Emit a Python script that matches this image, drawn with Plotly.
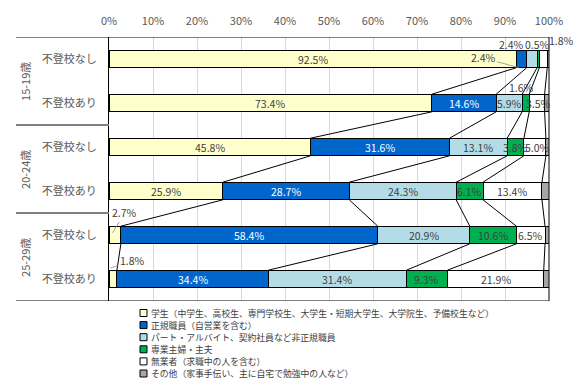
import plotly.graph_objects as go

# ---------------- data ----------------
groups = ["15-19歳", "20-24歳", "25-29歳"]
subgroups = ["不登校なし", "不登校あり"]
row_labels = [s for g in groups for s in subgroups]

series_names = [
    "学生（中学生、高校生、専門学校生、大学生・短期大学生、大学院生、予備校生など）",
    "正規職員（自営業を含む）",
    "パート・アルバイト、契約社員など非正規職員",
    "専業主婦・主夫",
    "無業者（求職中の人を含む）",
    "その他（家事手伝い、主に自宅で勉強中の人など）",
]
student = [92.5, 73.4, 45.8, 25.9, 2.7, 1.8]
regular = [2.4, 14.6, 31.6, 28.7, 58.4, 34.4]
nonregular = [2.4, 5.9, 13.1, 24.3, 20.9, 31.4]
homemaker = [0.5, 1.6, 3.8, 6.1, 10.6, 9.3]
unemployed = [1.8, 3.5, 5.0, 13.4, 6.5, 21.9]
other = [0.4, 1.0, 0.7, 1.6, 0.9, 1.2]
x_ticks = list(range(0, 101, 10))

# ---------------- styles ----------------
series_values = [student, regular, nonregular, homemaker, unemployed, other]
colors = ["#FFFFCC", "#0066CC", "#B4DCE6", "#00B050", "#FFFFFF", "#A6A6A6"]
label_colors = ["#404040", "#FFFFFF", "#404040", "#404040", "#404040", None]
FONT = "Noto Sans CJK JP"
BAR_W = 0.4
n_rows = len(row_labels)
ypos = list(range(n_rows))

fig = go.Figure()
for name, vals, col in zip(series_names, series_values, colors):
    fig.add_trace(go.Bar(
        y=ypos, x=vals, name=name, orientation="h", width=BAR_W,
        marker=dict(color=col, line=dict(color="#000000", width=1)),
        showlegend=False, hoverinfo="x+name",
    ))

# cumulative boundaries
cum = []
for i in range(n_rows):
    c, row = 0.0, []
    for vals in series_values:
        c += vals[i]
        row.append(c)
    cum.append(row)

# series lines connecting boundaries between consecutive bars
for k in range(len(series_values) - 1):
    xs, ys = [], []
    for i in range(n_rows - 1):
        xs += [cum[i][k], cum[i + 1][k], None]
        ys += [i + BAR_W / 2, i + 1 - BAR_W / 2, None]
    fig.add_trace(go.Scatter(x=xs, y=ys, mode="lines",
                             line=dict(color="#000000", width=1),
                             showlegend=False, hoverinfo="skip"))

# ---------------- data labels ----------------
shifts = {  # (row, series) -> (xshift, yshift) in px, label placed outside bar
    (0, 2): (-20, 15), (0, 3): (-1, 15), (0, 4): (18, 19),
    (1, 3): (-4, 16),
}
nudges = {(1, 4): (2, 0), (2, 4): (3, 0)}
arrows = {  # (row, series) -> (target frac in segment, ax, ay, target dy)
    (0, 1): (0.3, -36, -10, 0.2),
    (4, 0): (0.3, 12, -20, -0.05),
    (5, 0): (0.2, 22, -8, -0.25),
}
annotations = []
for i in range(n_rows):
    start = 0.0
    for k, vals in enumerate(series_values):
        v = vals[i]
        if label_colors[k] is not None:
            txt = f"{v:.1f}%"
            center = start + v / 2
            if (i, k) in arrows:
                fx, ax, ay, dy = arrows[(i, k)]
                annotations.append(dict(
                    x=start + v * fx, y=i + dy, xref="x", yref="y", text=txt,
                    showarrow=True, arrowhead=0, arrowwidth=0.8,
                    arrowcolor="#8C8C8C", ax=ax, ay=ay, standoff=0,
                    font=dict(family=FONT, size=10.5, color="#404040")))
            else:
                if (i, k) in shifts:
                    xs_, ys_ = shifts[(i, k)]
                    col = "#404040"
                else:
                    xs_, ys_ = nudges.get((i, k), (0, 0))
                    col = label_colors[k]
                annotations.append(dict(
                    x=center, y=i, xref="x", yref="y", text=txt,
                    showarrow=False, xshift=xs_, yshift=ys_,
                    font=dict(family=FONT, size=10.5, color=col)))
        start += v

# group labels (rotated)
for gi, g in enumerate(groups):
    annotations.append(dict(
        x=-0.191, xref="paper", y=gi * 2 + 0.5, yref="y", text=g,
        xanchor="center", yanchor="middle",
        textangle=-90, showarrow=False,
        font=dict(family=FONT, size=11, color="#595959")))

# ---------------- legend (text + swatches) ----------------
shapes = []
leg_x0 = (140 - 109) / 440
leg_x1 = (147 - 109) / 440
for j, (name, col) in enumerate(zip(series_names, colors)):
    cy = 313 + 12.1 * j
    yc = (301 - cy) / 264
    shapes.append(dict(type="rect", xref="paper", yref="paper",
                       x0=leg_x0, x1=leg_x1, y0=yc - 3.5 / 264, y1=yc + 3.5 / 264,
                       fillcolor=col, line=dict(color="#000000", width=1)))
    annotations.append(dict(
        x=(149 - 109) / 440, y=yc, xref="paper", yref="paper", text=name,
        xanchor="left", yanchor="middle", showarrow=False,
        font=dict(family=FONT, size=8.8, color="#404040")))

# frame lines
left_ext = (16 - 109) / 440
shapes += [
    dict(type="line", xref="paper", yref="y", x0=left_ext, x1=1, y0=-0.5, y1=-0.5,
         line=dict(color="#000000", width=1)),
    dict(type="line", xref="paper", yref="y", x0=left_ext, x1=1, y0=n_rows - 0.5,
         y1=n_rows - 0.5, line=dict(color="#000000", width=1)),
    dict(type="line", xref="paper", yref="paper", x0=1, x1=1, y0=0, y1=1,
         line=dict(color="#000000", width=1)),
]
for gi in range(1, len(groups)):
    shapes.append(dict(type="line", xref="paper", yref="y", x0=left_ext, x1=0,
                       y0=gi * 2 - 0.5, y1=gi * 2 - 0.5,
                       line=dict(color="#808080", width=2)))

fig.update_layout(
    barmode="stack",
    width=580, height=387,
    margin=dict(l=109, r=31, t=37, b=86),
    paper_bgcolor="#FFFFFF", plot_bgcolor="#FFFFFF",
    font=dict(family=FONT, size=11, color="#595959"),
    annotations=annotations, shapes=shapes,
    xaxis=dict(side="top", range=[0, 100], tickvals=x_ticks,
               ticktext=[f"{t}%" for t in x_ticks],
               showgrid=True, gridcolor="#D9D9D9", gridwidth=1, zeroline=False,
               ticks="outside", ticklen=7, tickcolor="rgba(0,0,0,0)",
               tickfont=dict(family=FONT, size=11, color="#595959"),
               fixedrange=True),
    yaxis=dict(range=[n_rows - 0.5, -0.5], tickvals=ypos, ticktext=row_labels,
               showgrid=False, zeroline=False, showline=True,
               linecolor="#000000", linewidth=1,
               ticks="outside", ticklen=9, tickcolor="rgba(0,0,0,0)",
               tickfont=dict(family=FONT, size=11, color="#595959"),
               fixedrange=True),
    bargap=0.6,
)

fig.write_html("out.html", config={"displayModeBar": False},
               post_script="document.body.style.margin='0';")
